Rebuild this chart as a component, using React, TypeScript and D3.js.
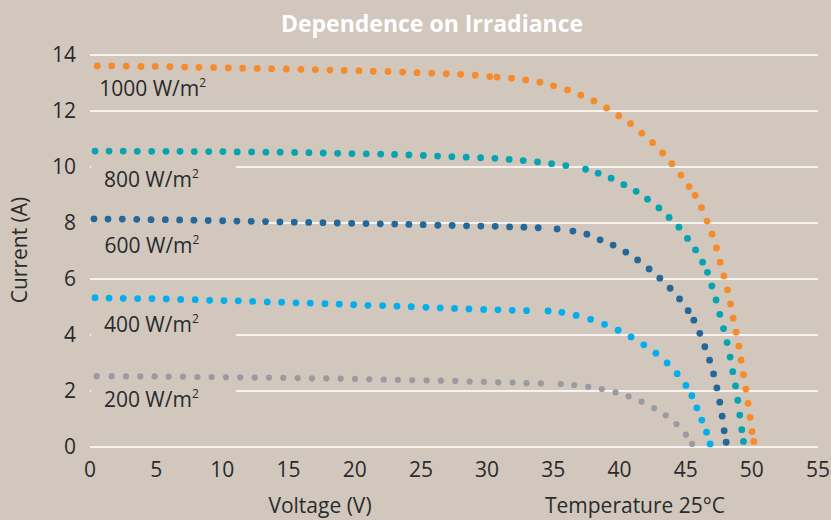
import { useEffect, useRef } from "react";
import * as d3 from "d3";

const xTicks = [0, 5, 10, 15, 20, 25, 30, 35, 40, 45, 50, 55];
const yTicks = [0, 2, 4, 6, 8, 10, 12, 14];

// [voltage (V), current (A)] per irradiance level
const curve1000: [number, number][] = [
  [0.55, 13.61], [1.64, 13.61], [2.74, 13.6], [3.85, 13.59], [4.93, 13.59], [6.04, 13.58],
  [7.15, 13.57], [8.23, 13.56], [9.34, 13.55], [10.45, 13.54], [11.53, 13.53], [12.63, 13.52],
  [13.72, 13.51], [14.83, 13.5], [15.94, 13.49], [17.02, 13.48], [18.13, 13.46], [19.21, 13.45],
  [20.32, 13.44], [21.4, 13.42], [22.51, 13.41], [23.62, 13.39], [24.7, 13.37], [25.81, 13.35],
  [26.91, 13.33], [28.0, 13.31], [29.1, 13.28], [30.21, 13.23], [30.76, 13.21],
  [31.85, 13.17], [32.91, 13.11], [33.99, 13.03], [35.02, 12.9], [36.08, 12.75], [37.08, 12.57],
  [38.07, 12.36], [39.03, 12.11], [39.95, 11.83], [40.84, 11.55], [41.69, 11.21], [42.5, 10.87],
  [43.26, 10.5], [43.96, 10.12], [44.64, 9.71], [45.26, 9.3], [45.72, 8.99], [46.2, 8.55],
  [46.62, 8.07], [47.0, 7.6], [47.33, 7.11], [47.61, 6.6], [47.89, 6.11], [48.16, 5.61],
  [48.39, 5.11], [48.59, 4.6], [48.81, 4.1], [49.02, 3.6], [49.19, 3.1], [49.37, 2.58],
  [49.55, 2.07], [49.72, 1.56], [49.87, 1.06], [50.02, 0.55], [50.15, 0.2],
];

const curve800: [number, number][] = [
  [0.38, 10.57], [1.44, 10.57], [2.51, 10.57], [3.57, 10.56], [4.66, 10.56], [5.74, 10.56],
  [6.8, 10.56], [7.88, 10.55], [8.97, 10.55], [10.04, 10.55], [11.12, 10.54], [12.21, 10.54],
  [13.29, 10.53], [14.37, 10.53], [15.46, 10.52], [16.54, 10.51], [17.62, 10.5], [18.71, 10.49],
  [19.79, 10.48], [20.87, 10.47], [21.96, 10.46], [23.01, 10.45], [24.09, 10.43], [25.18, 10.41],
  [26.26, 10.39], [27.34, 10.37], [28.42, 10.35], [29.51, 10.33], [30.59, 10.31], [31.67, 10.27],
  [32.73, 10.23], [33.81, 10.18], [34.87, 10.12],
  [35.95, 10.05], [37.44, 9.92], [38.39, 9.78], [39.37, 9.6], [40.33, 9.37], [41.26, 9.13],
  [42.12, 8.85], [42.98, 8.54], [43.75, 8.2], [44.49, 7.85], [45.14, 7.45], [45.75, 7.04],
  [46.28, 6.6], [46.65, 6.24], [46.98, 5.75], [47.3, 5.25], [47.58, 4.74], [47.86, 4.23],
  [48.13, 3.73], [48.36, 3.21], [48.56, 2.69], [48.77, 2.18], [48.94, 1.67], [49.09, 1.14],
  [49.24, 0.62], [49.37, 0.2],
];

const curve600: [number, number][] = [
  [0.3, 8.15], [1.36, 8.14], [2.44, 8.14], [3.53, 8.13], [4.61, 8.12], [5.69, 8.12],
  [6.77, 8.11], [7.85, 8.1], [8.93, 8.09], [10.02, 8.08], [11.1, 8.07], [12.18, 8.06],
  [13.26, 8.05], [14.35, 8.04], [15.43, 8.03], [16.52, 8.02], [17.6, 8.01], [18.68, 8.0],
  [19.77, 7.99], [20.85, 7.98], [21.93, 7.97], [23.02, 7.96], [24.09, 7.95], [25.17, 7.94],
  [26.28, 7.92], [27.36, 7.91], [28.45, 7.9], [29.53, 7.89], [30.61, 7.88], [31.7, 7.86],
  [32.78, 7.85], [33.86, 7.83], [35.29, 7.79],
  [36.48, 7.71], [37.54, 7.6], [38.54, 7.4], [39.52, 7.21], [40.48, 6.96], [41.37, 6.68],
  [42.24, 6.36], [43.05, 6.03], [43.83, 5.67], [44.54, 5.29], [45.19, 4.87], [45.62, 4.53],
  [46.07, 4.06], [46.45, 3.58], [46.81, 3.1], [47.11, 2.61], [47.36, 2.11], [47.58, 1.6],
  [47.76, 1.1], [47.91, 0.58], [48.06, 0.17],
];

const curve400: [number, number][] = [
  [0.38, 5.33], [1.44, 5.32], [2.51, 5.31], [3.6, 5.3], [4.68, 5.3], [5.76, 5.29],
  [6.85, 5.27], [7.95, 5.26], [9.04, 5.24], [10.12, 5.23], [11.2, 5.22], [12.29, 5.2],
  [13.39, 5.18], [14.48, 5.17], [15.56, 5.15], [16.64, 5.14], [17.75, 5.12], [18.83, 5.1],
  [19.92, 5.08], [21.0, 5.06], [22.11, 5.05], [23.19, 5.03], [24.27, 5.01], [25.38, 4.99],
  [26.46, 4.97], [27.54, 4.95], [28.63, 4.93], [29.74, 4.91], [30.82, 4.9], [31.9, 4.88],
  [32.98, 4.87], [34.61, 4.86],
  [35.65, 4.81], [36.73, 4.7], [37.82, 4.56], [38.87, 4.38], [39.9, 4.17], [40.88, 3.93],
  [41.84, 3.65], [42.75, 3.35], [43.6, 3.0], [44.36, 2.62], [45.02, 2.2], [45.47, 1.83],
  [45.85, 1.4], [46.22, 0.96], [46.58, 0.53], [46.85, 0.11],
];

const curve200: [number, number][] = [
  [0.5, 2.53], [1.64, 2.53], [2.72, 2.52], [3.8, 2.52], [4.88, 2.52], [5.94, 2.51],
  [7.02, 2.51], [8.11, 2.5], [9.19, 2.5], [10.27, 2.49], [11.35, 2.49], [12.44, 2.48],
  [13.52, 2.48], [14.6, 2.47], [15.69, 2.46], [16.77, 2.45], [17.85, 2.45], [18.93, 2.44],
  [20.02, 2.43], [21.1, 2.42], [22.19, 2.41], [23.26, 2.4], [24.34, 2.39], [25.43, 2.38],
  [26.51, 2.37], [27.59, 2.36], [28.68, 2.34], [29.76, 2.33], [30.84, 2.31], [31.93, 2.3],
  [32.98, 2.28], [34.06, 2.27],
  [35.57, 2.25], [36.58, 2.21], [37.64, 2.15], [38.67, 2.07], [39.71, 1.95], [40.69, 1.81],
  [41.67, 1.62], [42.62, 1.39], [43.5, 1.13], [44.31, 0.82], [45.02, 0.44], [45.49, 0.11],
];

const irradiance = ["1000", "800", "600", "400", "200"];
const curves = [curve1000, curve800, curve600, curve400, curve200];
const colors = ["#f68b2b", "#05a4b0", "#246799", "#03aeec", "#9b9b9f"];

// label anchor in data units: [voltage, current at text baseline]
const labelAt: [number, number][] = [[0.7, 12.55], [1.05, 9.3], [1.1, 6.93], [1.05, 4.12], [1.05, 1.44]];
const labelBoxWidth = [145, 145, 170, 145, 145];

const BG = "#d1c7bd";
const INK = "#2b2b2b";
const FONT = "'Open Sans', sans-serif";
const FS = 21;

const W = 831;
const H = 520;
const margin = { top: 55, right: 13, bottom: 73, left: 90 };

export default function App() {
  const ref = useRef<SVGSVGElement>(null);

  useEffect(() => {
    const svg = d3.select(ref.current);
    svg.selectAll("*").remove();

    const x = d3.scaleLinear().domain([0, 55]).range([margin.left, W - margin.right]);
    const y = d3.scaleLinear().domain([0, 14]).range([H - margin.bottom, margin.top]);

    svg.append("rect").attr("width", W).attr("height", H).attr("fill", BG);

    // grid
    svg.append("g")
      .selectAll("line")
      .data(yTicks)
      .join("line")
      .attr("x1", x(0))
      .attr("x2", x(55))
      .attr("y1", (d) => y(d))
      .attr("y2", (d) => y(d))
      .attr("stroke", "#f7f4f0")
      .attr("stroke-width", 2);

    const txt = svg.append("g")
      .attr("font-family", FONT)
      .attr("font-size", FS)
      .attr("fill", INK);

    // y tick labels
    txt.append("g")
      .selectAll("text")
      .data(yTicks)
      .join("text")
      .attr("x", 76)
      .attr("y", (d) => y(d))
      .attr("dy", "0.35em")
      .attr("text-anchor", "end")
      .text((d) => d);

    // x tick labels
    txt.append("g")
      .selectAll("text")
      .data(xTicks)
      .join("text")
      .attr("x", (d) => x(d))
      .attr("y", 477)
      .attr("text-anchor", "middle")
      .text((d) => d);

    // label boxes cover the grid lines behind them
    svg.append("g")
      .selectAll("rect")
      .data(labelAt)
      .join("rect")
      .attr("x", x(0) + 1)
      .attr("y", (d) => y(d[1]) - 32)
      .attr("width", (_, i) => labelBoxWidth[i])
      .attr("height", 40)
      .attr("fill", BG);

    // series dots
    curves.forEach((pts, i) => {
      svg.append("g")
        .selectAll("circle")
        .data(pts)
        .join("circle")
        .attr("cx", (d) => x(d[0]))
        .attr("cy", (d) => y(d[1]))
        .attr("r", i === 4 ? 3.1 : 3.4)
        .attr("fill", colors[i]);
    });

    // series labels
    const lab = svg.append("g")
      .attr("font-family", FONT)
      .attr("font-size", FS)
      .attr("fill", INK)
      .selectAll("text")
      .data(labelAt)
      .join("text")
      .attr("x", (d) => x(d[0]))
      .attr("y", (d) => y(d[1]));
    lab.append("tspan").text((_, i) => irradiance[i] + " W/m");
    lab.append("tspan").attr("font-size", 12).attr("dy", -9).text("2");

    // titles
    svg.append("text")
      .attr("x", 432)
      .attr("y", 32)
      .attr("text-anchor", "middle")
      .attr("font-family", FONT)
      .attr("font-weight", 700)
      .attr("font-size", 23)
      .attr("fill", "#ffffff")
      .text("Dependence on Irradiance");

    txt.append("text")
      .attr("x", 320)
      .attr("y", 513)
      .attr("text-anchor", "middle")
      .text("Voltage (V)");

    txt.append("text")
      .attr("x", 635)
      .attr("y", 513)
      .attr("text-anchor", "middle")
      .text("Temperature 25°C");

    txt.append("text")
      .attr("transform", "translate(27,250) rotate(-90)")
      .attr("text-anchor", "middle")
      .text("Current (A)");
  }, []);

  return (
    <svg
      ref={ref}
      width={W}
      height={H}
      style={{ position: "absolute", left: 0, top: 0, display: "block" }}
    />
  );
}
